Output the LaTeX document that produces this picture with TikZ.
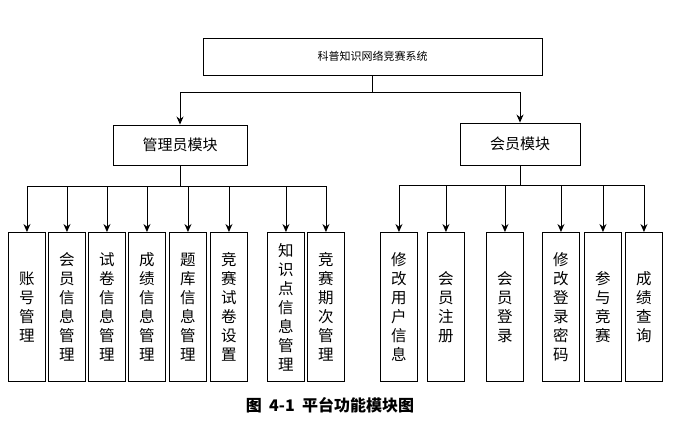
\documentclass[tikz,border=0pt]{standalone}
\usepackage{fontspec}
\setmainfont{Noto Sans CJK SC}
\usetikzlibrary{arrows.meta}
\begin{document}
\begin{tikzpicture}[x=1pt,y=-1pt,
  bx/.style={draw,line width=0.9pt,inner sep=0pt},
  vt/.style={bx,minimum width=37pt,minimum height=149pt,anchor=north west,font=\fontsize{15.5}{19}\selectfont,align=center,text width=37pt},
  ar/.style={-{Stealth[length=8pt,width=7pt]},line width=0.9pt}]
\useasboundingbox (0,0) rectangle (700,442);
\node[bx,minimum width=339pt,minimum height=37pt,font=\fontsize{11}{13}\selectfont] (top) at (372.5,56.5) {科普知识网络竞赛系统};
\node[bx,minimum width=134pt,minimum height=40pt,font=\fontsize{15}{17}\selectfont] (adm) at (180,145) {管理员模块};
\node[bx,minimum width=120pt,minimum height=42pt,font=\fontsize{15}{17}\selectfont] (mem) at (520,144) {会员模块};
\coordinate (t1) at (180,92); \coordinate (t2) at (520,92);
\draw[line width=0.9pt] (top.south) -- (top.south|-t1);
\draw[line width=0.9pt] (t1) -- (t2);
\draw[ar] (t1) -- (adm.north);
\draw[ar] (t2) -- (mem.north);
\foreach \x/\n/\t in {8/a1/{账\\号\\管\\理}, 48/a2/{会\\员\\信\\息\\管\\理}, 88/a3/{试\\卷\\信\\息\\管\\理}, 128/a4/{成\\绩\\信\\息\\管\\理}, 169/a5/{题\\库\\信\\息\\管\\理}, 210/a6/{竞\\赛\\试\\卷\\设\\置}, 267/a7/{知\\识\\点\\信\\息\\管\\理}, 307/a8/{竞\\赛\\期\\次\\管\\理}}
  \node[vt] (\n) at (\x,232) {\t};
\foreach \x/\n/\t in {380/m1/{修\\改\\用\\户\\信\\息}, 427/m2/{会\\员\\注\\册}, 486/m3/{会\\员\\登\\录}, 542/m4/{修\\改\\登\\录\\密\\码}, 584/m5/{参\\与\\竞\\赛}, 625/m6/{成\\绩\\查\\询}}
  \node[vt] (\n) at (\x,232) {\t};
\coordinate (ah) at (0,186);
\coordinate (mh) at (0,185);
\draw[line width=0.9pt] (adm.south) -- (adm.south|-ah);
\draw[line width=0.9pt] (a1.north|-ah) -- (a8.north|-ah);
\foreach \n in {a1,a2,a3,a4,a5,a6,a7,a8} \draw[ar] (\n.north|-ah) -- (\n.north);
\draw[line width=0.9pt] (mem.south) -- (mem.south|-mh);
\draw[line width=0.9pt] (m1.north|-mh) -- (m6.north|-mh);
\foreach \n in {m1,m2,m3,m4,m5,m6} \draw[ar] (\n.north|-mh) -- (\n.north);
\node[font=\fontsize{16}{18}\selectfont\bfseries] (cap) at (330,405) {图\ \ 4-1\ \ 平台功能模块图};
\end{tikzpicture}
\end{document}
